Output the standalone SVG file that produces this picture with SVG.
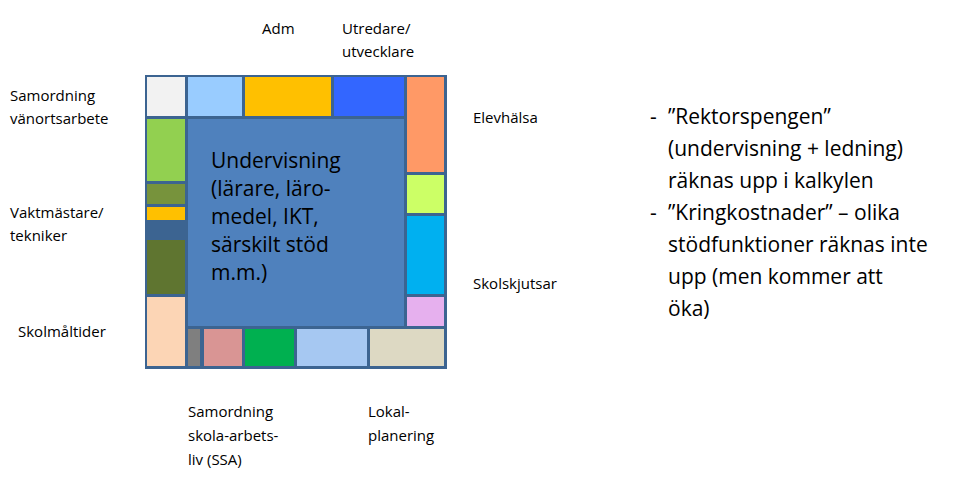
<svg xmlns="http://www.w3.org/2000/svg" width="979" height="486" viewBox="0 0 979 486">
<style>
text{font-family:"Open Sans","Liberation Sans",sans-serif;fill:#000}
.l{font-size:15px}
.b{font-size:21px}
.m{font-size:21px}
</style>
<rect width="979" height="486" fill="#fff"/>
<g id="frame"><rect x="145" y="75" width="302" height="294" fill="#3c6491"/></g>
<g id="main"><rect x="188" y="119" width="216" height="207" fill="#4f81bd"/>
<text class="b" x="211"><tspan x="211" y="168">Undervisning</tspan><tspan x="211" y="196">(lärare, läro-</tspan><tspan x="211" y="224">medel, IKT,</tspan><tspan x="211" y="252">särskilt stöd</tspan><tspan x="211" y="280">m.m.)</tspan></text></g>
<g id="top">
<rect x="147" y="77" width="38" height="39" fill="#f2f2f2"/>
<rect x="188" y="77" width="54" height="39" fill="#99ccff"/>
<rect x="245" y="77" width="86" height="39" fill="#ffc000"/>
<rect x="334" y="77" width="70" height="39" fill="#3366ff"/>
</g>
<g id="right">
<rect x="407" y="77" width="37" height="95" fill="#ff9966"/>
<rect x="407" y="175" width="37" height="38" fill="#ccff66"/>
<rect x="407" y="216" width="37" height="78" fill="#00b0f0"/>
<rect x="407" y="297" width="37" height="29" fill="#e6b0ee"/>
</g>
<g id="left">
<rect x="147" y="119" width="38" height="62" fill="#92d050"/>
<rect x="147" y="184" width="38" height="20" fill="#77933c"/>
<rect x="147" y="207" width="38" height="13" fill="#ffc000"/>
<rect x="147" y="240" width="38" height="54" fill="#5f7530"/>
<rect x="147" y="297" width="38" height="69" fill="#fcd5b5"/>
</g>
<g id="bottom">
<rect x="188" y="329" width="12" height="37" fill="#7f7f7f"/>
<rect x="204" y="329" width="38" height="37" fill="#d99594"/>
<rect x="245" y="329" width="49" height="37" fill="#00b050"/>
<rect x="297" y="329" width="70" height="37" fill="#a6c8f2"/>
<rect x="370" y="329" width="74" height="37" fill="#ddd9c3"/>
</g>
<g id="labels">
<text class="l" x="262" y="34">Adm</text>
<text class="l"><tspan x="342" y="34">Utredare/</tspan><tspan x="342" y="57">utvecklare</tspan></text>
<text class="l"><tspan x="10" y="101">Samordning</tspan><tspan x="10" y="124">vänortsarbete</tspan></text>
<text class="l"><tspan x="10" y="218">Vaktmästare/</tspan><tspan x="10" y="241">tekniker</tspan></text>
<text class="l" x="18" y="337">Skolmåltider</text>
<text class="l" x="473" y="123">Elevhälsa</text>
<text class="l" x="473" y="289">Skolskjutsar</text>
<text class="l"><tspan x="188" y="417">Samordning</tspan><tspan x="188" y="441">skola-arbets-</tspan><tspan x="188" y="465">liv (SSA)</tspan></text>
<text class="l"><tspan x="368" y="417">Lokal-</tspan><tspan x="368" y="441">planering</tspan></text>
</g>
<g id="bullets">
<text class="m"><tspan x="650" y="124">-</tspan><tspan x="668" y="124">”Rektorspengen”</tspan><tspan x="668" y="156">(undervisning + ledning)</tspan><tspan x="668" y="188">räknas upp i kalkylen</tspan><tspan x="650" y="220">-</tspan><tspan x="668" y="220">”Kringkostnader” – olika</tspan><tspan x="668" y="252">stödfunktioner räknas inte</tspan><tspan x="668" y="284">upp (men kommer att</tspan><tspan x="668" y="316">öka)</tspan></text>
</g>
</svg>
